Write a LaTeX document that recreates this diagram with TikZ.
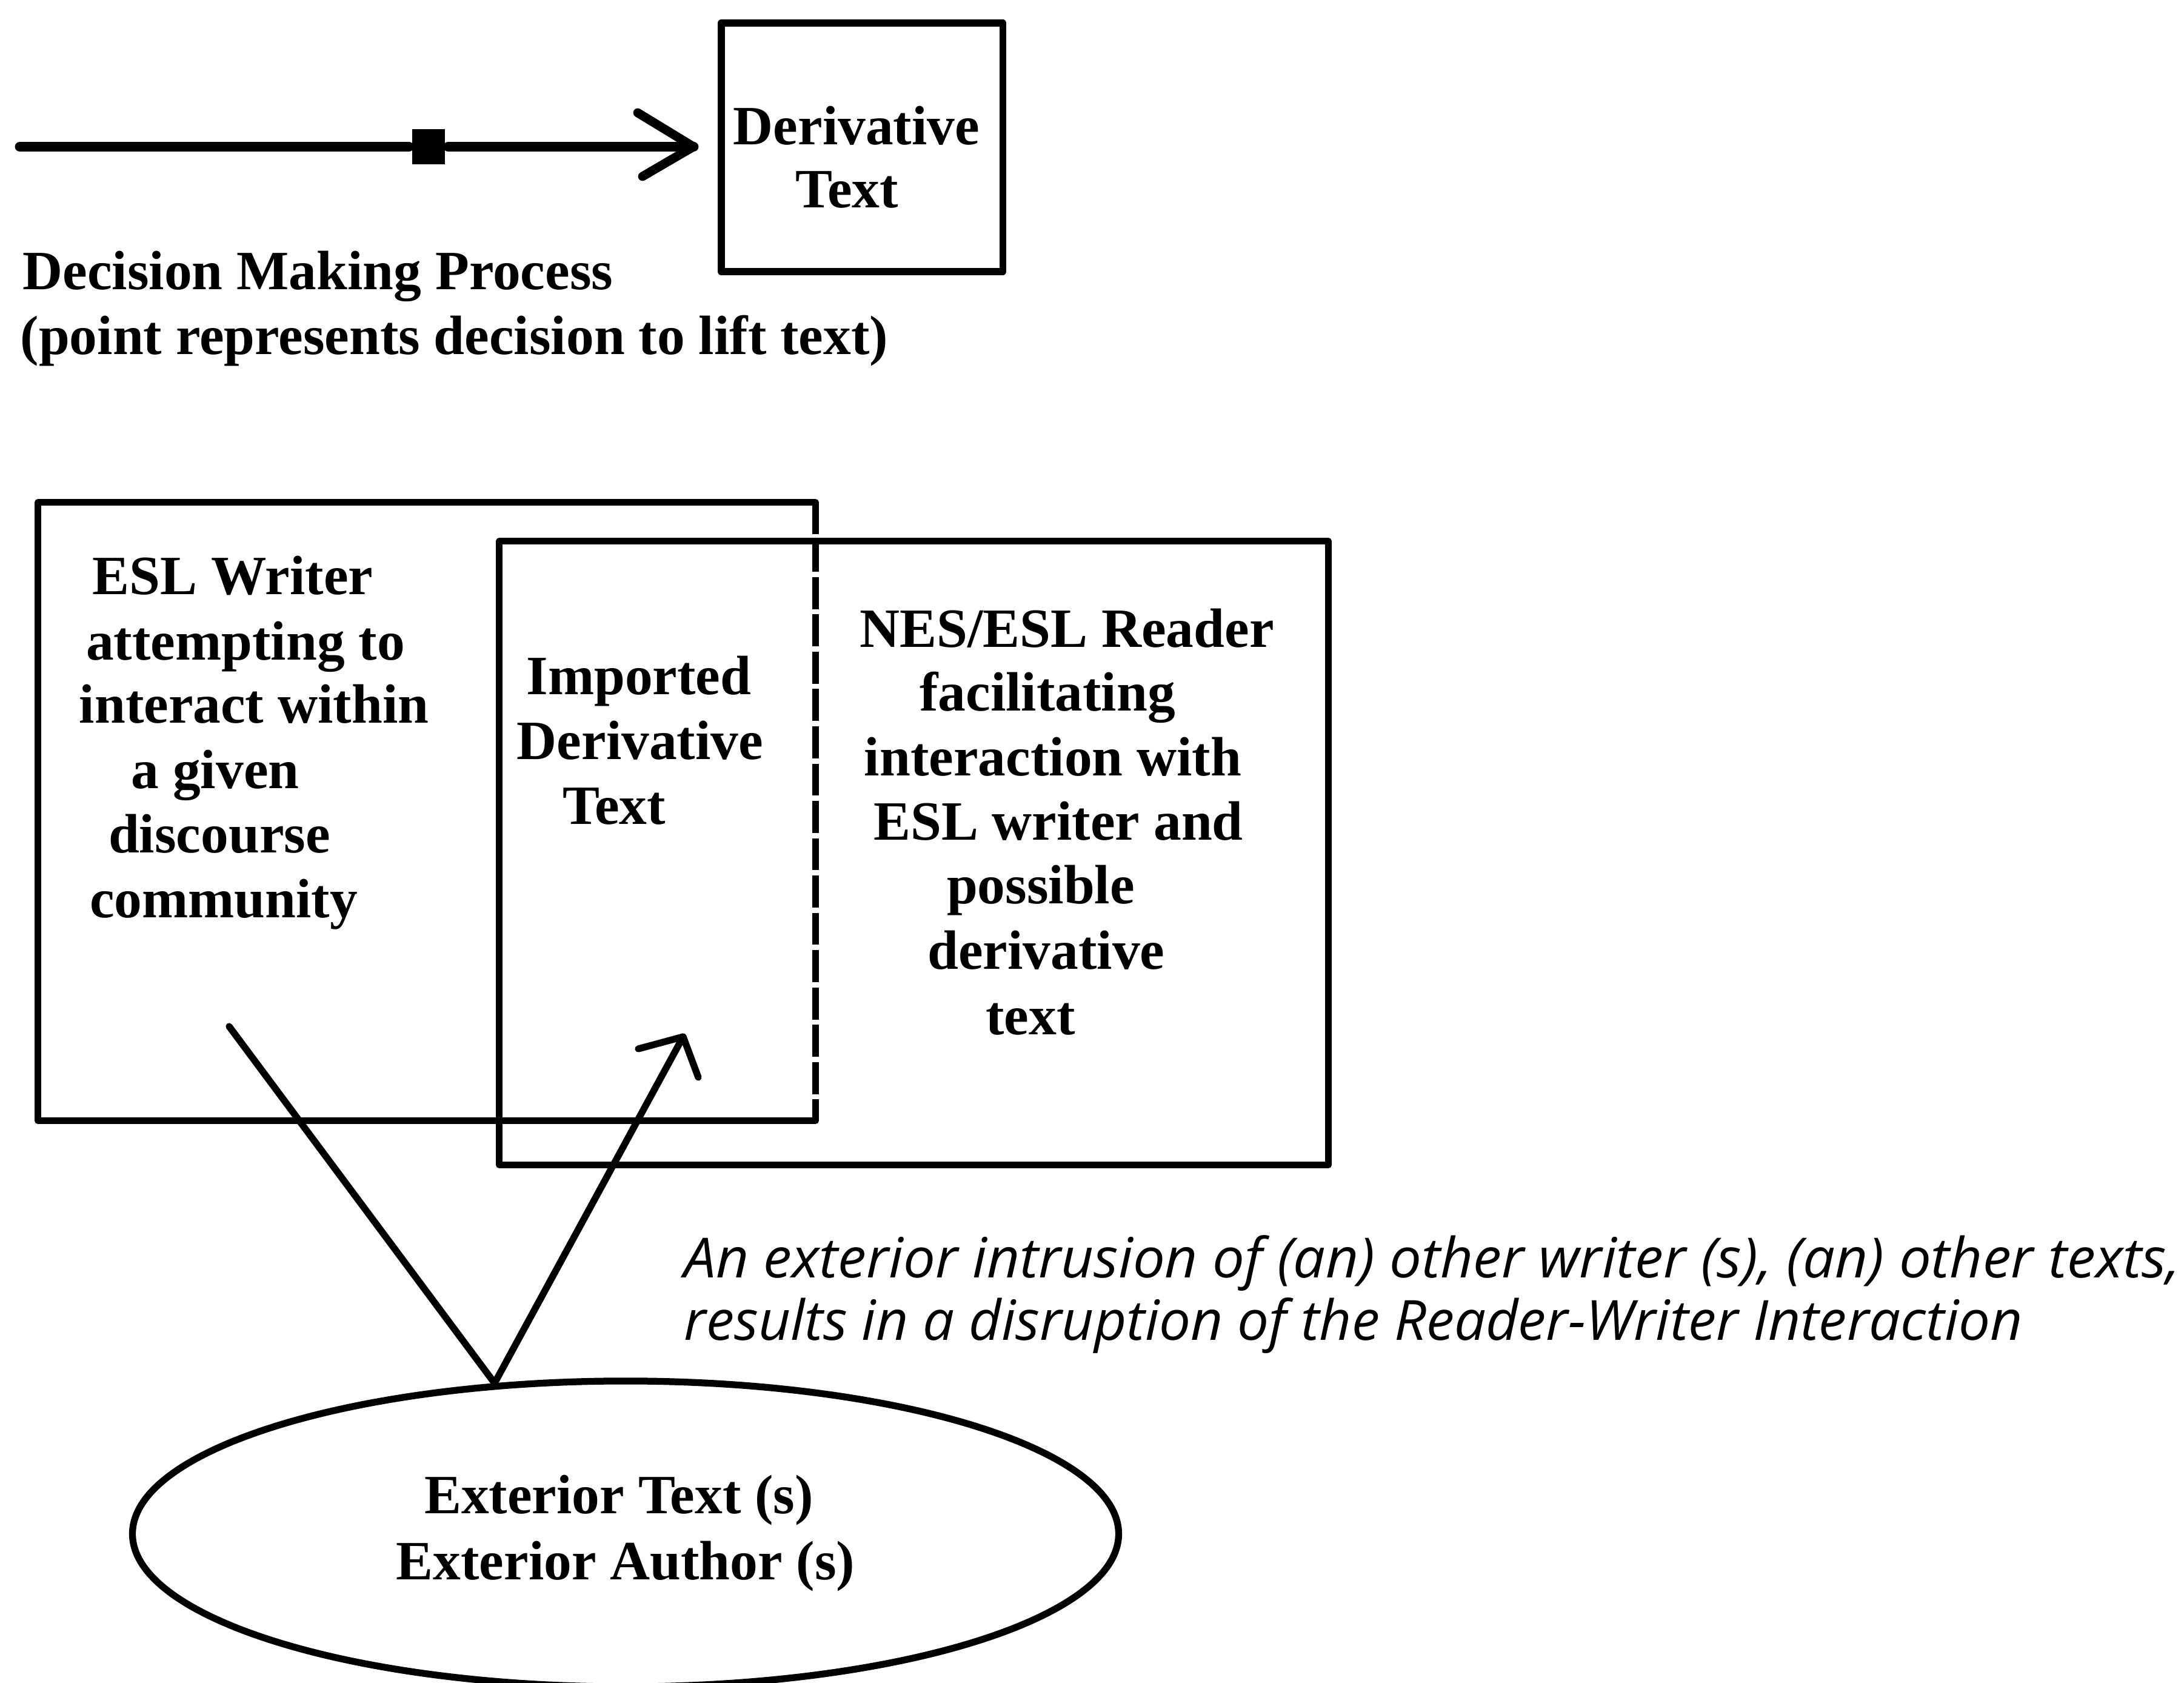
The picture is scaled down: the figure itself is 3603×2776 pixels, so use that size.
\documentclass[tikz,border=0pt]{standalone}
\usepackage{fontspec}
\setmainfont{Liberation Serif}
\newfontfamily\notefont{Open Sans}
\usepackage{graphicx}
\usetikzlibrary{shapes.geometric}

\begin{document}
\begin{tikzpicture}[x=0.01cm, y=-0.01cm, line width=3.2pt, line cap=round, line join=round,
  box/.style={draw, rectangle, inner sep=0pt, outer sep=0pt},
  framebox/.style={rectangle, inner sep=0pt, outer sep=0pt},
  lbl/.style={font=\bfseries\fontsize{26}{30}\selectfont, inner sep=0pt, anchor=base},
  lbll/.style={lbl, anchor=base west},
  note/.style={font=\notefont\itshape\fontsize{26}{30}\selectfont, inner sep=0pt, anchor=base west},
  link/.style={line width=3.2pt, line cap=round},
  thickline/.style={line width=4.8pt, line cap=round}]

% page
\fill[white] (0,0) rectangle (3603,2776);
\useasboundingbox (0,0) rectangle (3603,2776);

% ---- decision making process legend ----
\coordinate (dstart) at (33,242);
\coordinate (dtip) at (1144,242);
\node[fill=black, rectangle, inner sep=0pt, minimum width=0.54cm, minimum height=0.58cm] (decpt) at (707,242) {};
\draw[thickline] (dstart) -- (decpt) -- (dtip);
\draw[line width=4.2pt] (dtip) -- ++(-92,-56) (dtip) -- ++(-84,49);

\node[box, minimum width=4.64cm, minimum height=4.10cm] (deriv) at (1422,243) {};
\node[lbl] (derivA) at (1413,239) {Derivative};
\node[lbl] (derivB) at (1397,343) {Text};

\node[lbll] (dmp1) at (32,478) {Decision Making Process};
\node[lbll] (dmp2) at (28,584) {(point represents decision to lift text)};

% ---- reader / writer boxes ----
\node[box, minimum width=13.67cm, minimum height=10.28cm] (nes) at (1507.5,1407) {};
\node[framebox, minimum width=12.82cm, minimum height=10.19cm] (esl) at (704,1338.5) {};
\draw (esl.north east) -- (esl.north west) -- (esl.south west) -- (esl.south east);
\draw[dash pattern=on 15pt off 2.5pt, line cap=butt] (esl.north east) -- (esl.south east);

\node[lbl] (esl1) at (384,980) {ESL Writer};
\node[lbl] (esl2) at (405,1088) {attempting to};
\node[lbl] (esl3) at (419,1192) {interact within};
\node[lbl] (esl4) at (355,1300) {a given};
\node[lbl] (esl5) at (362,1406) {discourse};
\node[lbl] (esl6) at (369,1513) {community};

\node[lbl] (imp1) at (1054,1145) {Imported};
\node[lbl] (imp2) at (1056,1252) {Derivative};
\node[lbl] (imp3) at (1013,1359) {Text};

\node[lbl] (nes1) at (1760,1067) {NES/ESL Reader};
\node[lbl] (nes2) at (1728,1172) {facilitating};
\node[lbl] (nes3) at (1737,1279) {interaction with};
\node[lbl] (nes4) at (1746,1385) {ESL writer and};
\node[lbl] (nes5) at (1717,1490) {possible};
\node[lbl] (nes6) at (1726,1598) {derivative};
\node[lbl] (nes7) at (1700,1706) {text};

% ---- exterior source ----
\node[draw, ellipse, inner sep=0pt, minimum width=16.26cm, minimum height=5.04cm] (ext) at (1032,2530) {};
\node[lbl] (ext1) at (1021,2496) {Exterior Text (s)};
\node[lbl] (ext2) at (1032,2605) {Exterior Author (s)};

\coordinate (lend) at (378,1693);
\coordinate (itip) at (1127,1710);
\draw[link] (ext.131) -- (lend);
\draw[link] (ext.131) -- (itip);
\draw[link] (itip) -- ++(-74,20) (itip) -- ++(25,67);

\node[note] (note1) at (1123,2107) {\resizebox{24.67cm}{\height}{An exterior intrusion of (an) other writer (s), (an) other texts,}};
\node[note] (note2) at (1123,2210) {\resizebox{22.07cm}{\height}{results in a disruption of the Reader-Writer Interaction}};

\end{tikzpicture}
\end{document}
